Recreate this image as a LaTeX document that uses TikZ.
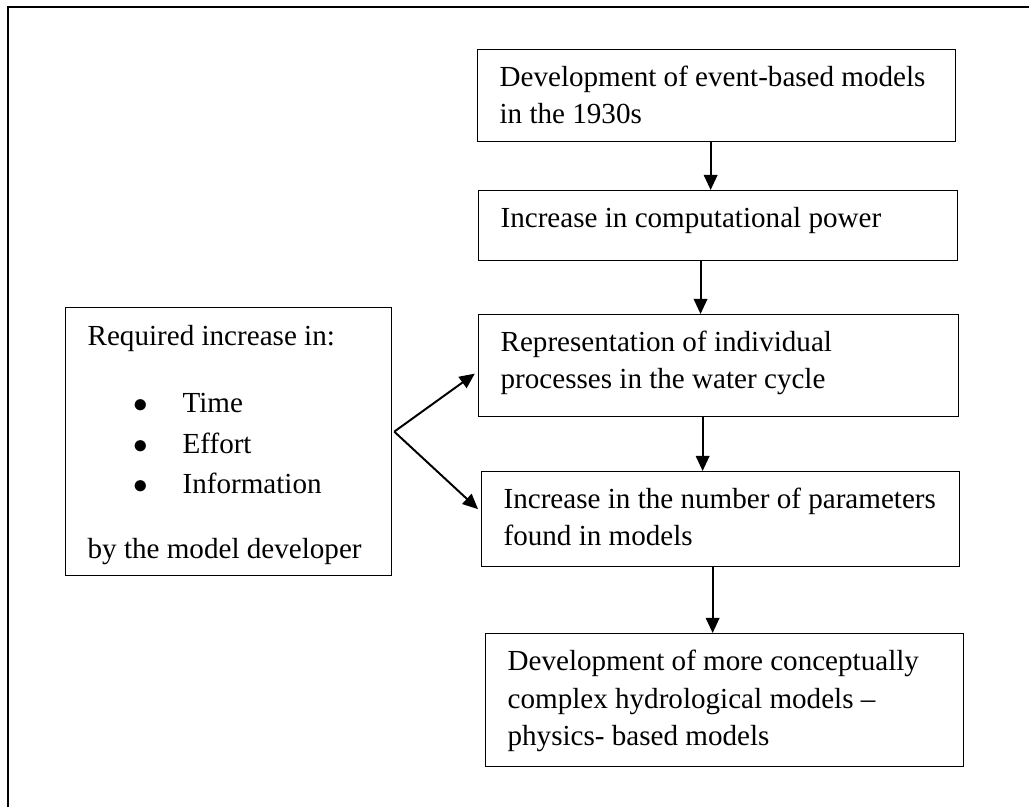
\documentclass[tikz,border=0pt]{standalone}
\usepackage{fontspec}
\setmainfont{Liberation Serif}
\usetikzlibrary{arrows.meta}

\newcommand{\boxtext}[3]{\parbox[c][#1][t]{#2}{\rule{0pt}{0.91cm}#3}}
\newcommand{\listitem}[1]{\hspace*{1.15cm}$\bullet$\hspace{0.86cm}#1}

\begin{document}
\begin{tikzpicture}[
        flowbox/.style={draw, line width=0.9pt, anchor=north west, inner xsep=0.55cm, inner ysep=0pt,
            font=\fontsize{20.7}{27}\selectfont},
        flowarrow/.style={-{Triangle[length=0.38cm, width=0.34cm]}, line width=1.4pt},
        frame/.style={line width=1.4pt}
    ]
    \useasboundingbox (0,0) rectangle (25.725,-20.175);

    % Outer frame
    \draw[frame] (0.2,-20.175) -- (0.2,-0.175) -- (25.725,-0.175);

    % Main chain
    \node[flowbox] (dev) at (11.925,-1.225)
        {\boxtext{2.3cm}{10.85cm}{Development of event-based models\\in the 1930s}};
    \node[flowbox] (comp) at (11.95,-4.75)
        {\boxtext{1.75cm}{10.875cm}{Increase in computational power}};
    \node[flowbox] (repr) at (11.95,-7.85)
        {\boxtext{2.55cm}{10.9cm}{Representation of individual\\processes in the water cycle}};
    \node[flowbox] (param) at (12.025,-11.775)
        {\boxtext{2.375cm}{10.85cm}{Increase in the number of parameters\\found in models}};
    \node[flowbox] (phys) at (12.125,-15.825)
        {\boxtext{3.325cm}{10.85cm}{Development of more conceptually\\complex hydrological models --\\physics- based models}};

    % Left box
    \node[flowbox] (req) at (1.625,-7.675)
        {\parbox[c][6.7cm][t]{7.05cm}{\rule{0pt}{0.95cm}Required increase in:\\[0.725cm]
        \listitem{Time}\\[0.075cm]
        \listitem{Effort}\\[0.05cm]
        \listitem{Information}\\[0.675cm]
        by the model developer}};

    % Arrows
    \draw[flowarrow] ([xshift=-0.15cm]dev.south) -- ([xshift=-0.15cm]dev.south |- comp.north);
    \draw[flowarrow] ([xshift=-0.44cm]comp.south) -- ([xshift=-0.44cm]comp.south |- repr.north);
    \draw[flowarrow] ([xshift=-0.4cm]repr.south) -- ([xshift=-0.4cm]repr.south |- param.north);
    \draw[flowarrow] ([xshift=-0.2cm]param.south) -- ([xshift=-0.2cm]param.south |- phys.north);

    \coordinate (fork) at ([xshift=0.05cm,yshift=0.25cm]req.east);
    \draw[flowarrow] (fork) -- ([xshift=-0.08cm,yshift=-0.2cm]repr.west);
    \draw[flowarrow] (fork) -- ([xshift=-0.075cm,yshift=0.25cm]param.west);
\end{tikzpicture}
\end{document}
